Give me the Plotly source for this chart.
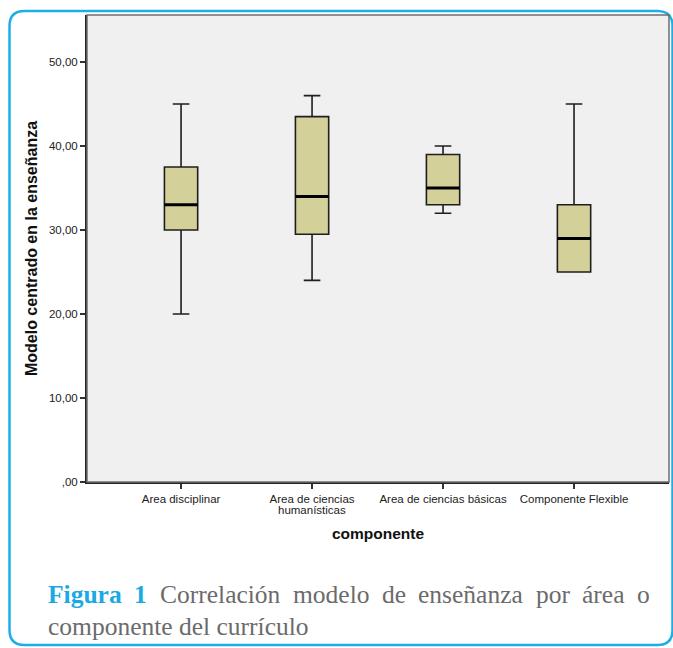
import plotly.graph_objects as go

# Curriculum component groups and their five-number summaries
categories = ["Area disciplinar", "Area de ciencias", "Area de ciencias básicas",
              "Componente Flexible"]
category_second_line = ["", "humanísticas", "", ""]
lower_whisker = [20, 24, 32, 25]
q1 = [30, 29.5, 33, 25]
median = [33, 34, 35, 29]
q3 = [37.5, 43.5, 39, 33]
upper_whisker = [45, 46, 40, 45]

y_tickvals = [0, 10, 20, 30, 40, 50]
y_ticktext = [",00", "10,00", "20,00", "30,00", "40,00", "50,00"]

caption_words = [("Figura", True), ("1", True), ("Correlación", False), ("modelo", False),
                 ("de", False), ("enseñanza", False), ("por", False), ("área", False), ("o", False)]
caption_line2 = "componente del currículo"

W, H = 673, 648
L, R, T, B = 87, 669, 15, 482  # plot area in pixels

positions = list(range(len(categories)))
box_w = 0.254

fig = go.Figure()
fig.add_trace(go.Box(
    x=positions, q1=q1, median=median, q3=q3,
    lowerfence=lower_whisker, upperfence=upper_whisker,
    width=box_w, whiskerwidth=0.5,
    fillcolor="#d4d09a", line=dict(color="#1e1e1e", width=1.6),
    boxpoints=False, hoverinfo="skip", showlegend=False,
))

# heavier median bars drawn over each box
mx, my = [], []
for p, m in zip(positions, median):
    mx += [p - box_w / 2, p + box_w / 2, None]
    my += [m, m, None]
fig.add_trace(go.Scatter(x=mx, y=my, mode="lines",
                         line=dict(color="#000000", width=3),
                         hoverinfo="skip", showlegend=False))

def px_x(v):
    return (v - L) / (R - L)

def px_y(v):
    return (B - v) / (B - T)

# tightly spaced second line of a category label
for p, extra in zip(positions, category_second_line):
    if extra:
        fig.add_annotation(xref="x", yref="paper", x=p, y=px_y(510), text=extra,
                           showarrow=False, xanchor="center", yanchor="middle",
                           font=dict(size=11.5, color="#222222"))

# rounded frame around the whole figure
x0, x1, y0, y1, r = 9.5, 672.5, 11, 645, 15
path = (f"M {px_x(x0 + r)} {px_y(y0)} L {px_x(x1 - r)} {px_y(y0)} "
        f"Q {px_x(x1)} {px_y(y0)} {px_x(x1)} {px_y(y0 + r)} "
        f"L {px_x(x1)} {px_y(y1 - r)} Q {px_x(x1)} {px_y(y1)} {px_x(x1 - r)} {px_y(y1)} "
        f"L {px_x(x0 + r)} {px_y(y1)} Q {px_x(x0)} {px_y(y1)} {px_x(x0)} {px_y(y1 - r)} "
        f"L {px_x(x0)} {px_y(y0 + r)} Q {px_x(x0)} {px_y(y0)} {px_x(x0 + r)} {px_y(y0)} Z")
fig.add_shape(type="path", path=path, xref="paper", yref="paper",
              line=dict(color="#1eaee6", width=2.5), layer="below")

# grey border of the plot area (top and right)
fig.add_shape(type="rect", xref="paper", yref="paper", x0=0, x1=1, y0=0, y1=1,
              line=dict(color="#6e6e6e", width=1.5), layer="above")

# justified first caption line: Times advance widths (per 1000 em)
reg = {"C": 667, "o": 500, "r": 333, "e": 444, "l": 278, "a": 444, "c": 444, "i": 278,
       "ó": 500, "n": 500, "m": 778, "d": 500, "ñ": 500, "z": 444, "p": 500, "á": 444, "s": 389}
bold = {"F": 611, "i": 278, "g": 500, "u": 556, "r": 444, "a": 500, "1": 500}
cap_size = 25.5
cap_left, cap_right = 46, 648
widths = [sum((bold if b else reg).get(ch, 500) for ch in w) * cap_size / 1000
          for w, b in caption_words]
gap = (cap_right - cap_left - sum(widths)) / (len(caption_words) - 1)
xpos = cap_left
for (word, is_bold), wd in zip(caption_words, widths):
    txt = f"<b>{word}</b>" if is_bold else word
    fig.add_annotation(
        xref="paper", yref="paper", x=px_x(xpos), y=px_y(594), xanchor="left", yanchor="middle",
        text=txt, showarrow=False,
        font=dict(family="Liberation Serif", size=cap_size,
                  color="#1aa9e2" if is_bold else "#6b6b6b"))
    xpos += wd + gap
fig.add_annotation(
    xref="paper", yref="paper", x=px_x(cap_left), y=px_y(626), xanchor="left", yanchor="middle",
    text=caption_line2, showarrow=False,
    font=dict(family="Liberation Serif", size=cap_size, color="#6b6b6b"))

fig.update_layout(
    width=W, height=H,
    margin=dict(l=L, r=W - R, t=T, b=H - B),
    paper_bgcolor="white", plot_bgcolor="#f0f0f0",
    font=dict(family="Liberation Sans, Arial", size=11.5, color="#222222"),
    xaxis=dict(
        range=[-0.718, 3.725], tickvals=positions, ticktext=categories,
        ticks="outside", ticklen=5, tickwidth=1.5, tickcolor="#333333",
        showline=True, linecolor="#222222", linewidth=2, showgrid=False, zeroline=False,
        tickfont=dict(size=11.5, color="#222222"),
        title=dict(text="<b>componente</b>", font=dict(size=15.5, color="#111111"), standoff=24),
    ),
    yaxis=dict(
        range=[0, 55.6], tickvals=y_tickvals, ticktext=y_ticktext,
        ticks="outside", ticklen=5, tickwidth=1.5, tickcolor="#333333",
        showline=True, linecolor="#222222", linewidth=2, showgrid=False, zeroline=False,
        tickfont=dict(size=11.5, color="#222222"),
        title=dict(text="<b>Modelo centrado en la enseñanza</b>",
                   font=dict(size=16, color="#111111"), standoff=7),
    ),
)

fig.write_html("out.html")
